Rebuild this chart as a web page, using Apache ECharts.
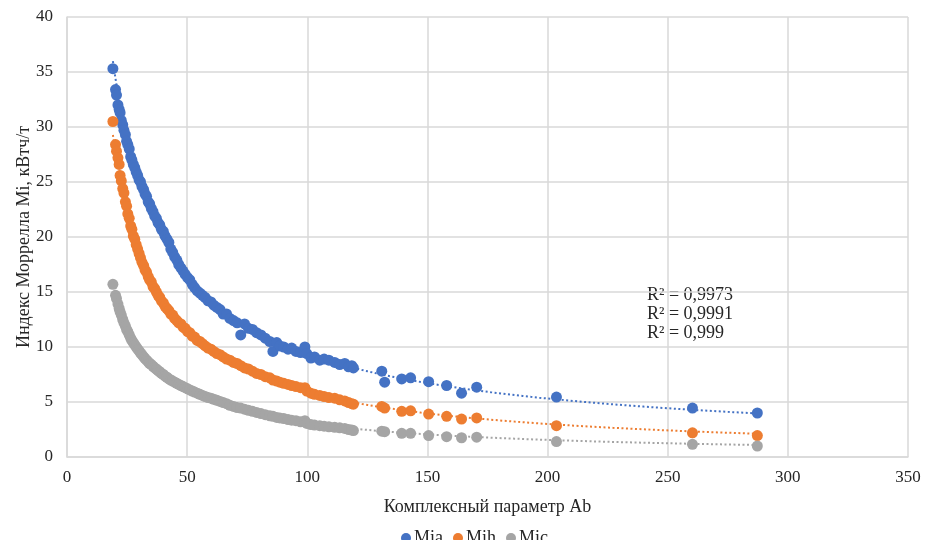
<!DOCTYPE html>
<html>
<head>
<meta charset="utf-8">
<script src="https://cdn.jsdelivr.net/npm/echarts@6/dist/echarts.min.js"></script>
<style>
html,body{margin:0;padding:0;background:#fff;}
#main{width:926px;height:540px;}
</style>
</head>
<body>
<div id="main"></div>
<script>
// Комплексный параметр Ab (общий для всех рядов)
var ab = [19.1,20.2,20.6,21.2,21.7,22.1,22.6,23.2,23.7,24.3,24.8,25.3,25.9,26.5,27.0,27.6,28.2,28.8,29.4,30.0,
  30.6,31.2,31.9,32.5,33.1,33.8,34.4,35.1,35.8,36.5,37.2,37.9,38.6,39.3,40.1,40.8,41.6,42.4,43.2,44.0,
  44.8,45.7,46.5,47.4,48.3,49.2,50.2,51.1,52.1,53.1,54.2,55.3,56.4,57.5,58.7,59.9,61.1,62.4,63.7,65.0,
  66.4,67.8,69.3,70.8,72.3,73.9,75.5,77.2,78.9,80.7,82.5,84.4,85.7,87.3,88.6,90.2,92.0,93.5,95.3,97.2,
  99.0,99.8,101.5,103.0,105.2,107.0,109.0,111.4,113.5,115.6,117.2,118.5,119.2,131.0,132.2,139.3,143.0,150.5,158.0,164.2,
  170.5,203.7,260.3,287.3];
var mia = [35.3,33.4,32.9,32.0,31.6,31.3,30.6,30.2,29.7,29.3,28.7,28.4,28.0,27.3,27.0,26.6,26.3,25.9,25.6,25.2,
  25.0,24.6,24.3,23.9,23.7,23.2,23.0,22.6,22.3,21.9,21.7,21.3,21.1,20.7,20.5,20.1,19.8,19.5,18.9,18.6,
  18.2,17.9,17.5,17.2,16.9,16.6,16.3,16.1,15.7,15.4,15.1,14.9,14.7,14.5,14.2,14.1,13.8,13.6,13.4,13.0,
  13.0,12.6,12.4,12.2,11.1,12.1,11.7,11.6,11.3,11.1,10.8,10.5,9.6,10.4,10.1,10.0,9.8,9.9,9.6,9.5,
  10.0,9.4,9.0,9.1,8.8,8.9,8.8,8.6,8.4,8.5,8.2,8.3,8.1,7.8,6.8,7.1,7.2,6.85,6.5,5.8,
  6.35,5.45,4.45,4.0];
var mih = [30.5,28.4,27.8,27.2,26.6,25.6,25.1,24.4,24.0,23.2,22.8,22.1,21.7,21.0,20.7,20.1,19.8,19.3,18.9,18.5,
  18.1,17.7,17.4,17.0,16.8,16.4,16.1,15.9,15.5,15.3,15.0,14.7,14.5,14.2,14.0,13.7,13.5,13.3,13.0,12.9,
  12.6,12.4,12.2,12.1,11.8,11.7,11.4,11.3,11.0,10.9,10.6,10.5,10.3,10.1,9.9,9.8,9.6,9.4,9.3,9.1,
  8.9,8.8,8.6,8.5,8.3,8.1,8.0,7.8,7.6,7.5,7.3,7.2,7.0,6.9,6.8,6.7,6.6,6.5,6.4,6.3,
  6.3,6.0,5.8,5.7,5.6,5.5,5.4,5.35,5.2,5.1,4.95,4.85,4.8,4.6,4.45,4.15,4.2,3.9,3.7,3.45,
  3.55,2.85,2.2,1.95];
var mic = [15.7,14.7,14.4,13.9,13.5,13.2,12.9,12.5,12.2,11.9,11.6,11.4,11.1,10.8,10.6,10.4,10.2,10.0,9.8,9.65,
  9.45,9.3,9.1,8.95,8.8,8.65,8.5,8.4,8.25,8.1,8.0,7.85,7.75,7.6,7.5,7.35,7.25,7.1,7.0,6.9,
  6.8,6.7,6.6,6.5,6.4,6.3,6.2,6.1,6.0,5.9,5.8,5.7,5.6,5.5,5.4,5.35,5.25,5.15,5.05,4.95,
  4.85,4.7,4.6,4.5,4.45,4.35,4.25,4.15,4.05,3.95,3.85,3.75,3.7,3.6,3.55,3.5,3.4,3.35,3.3,3.2,
  3.3,3.05,2.95,2.9,2.85,2.8,2.75,2.7,2.65,2.6,2.5,2.45,2.4,2.35,2.3,2.15,2.15,1.95,1.85,1.75,
  1.8,1.4,1.15,1.0];
var seriesNames = ['Mia','Mih','Mic'];
var colors = ['#4472C4','#ED7D31','#A5A5A5'];
var r2Labels = ['R² = 0,9973','R² = 0,9991','R² = 0,999'];

var font = '"Liberation Serif", "Times New Roman", serif';

function pairs(xs, ys) {
    var out = [];
    for (var i = 0; i < xs.length; i++) out.push([xs[i], ys[i]]);
    return out;
}
// степенная линия тренда (как в Excel): ln y = ln a + b ln x
function powerTrend(xs, ys) {
    var n = xs.length, sx = 0, sy = 0, sxx = 0, sxy = 0;
    for (var i = 0; i < n; i++) {
        var lx = Math.log(xs[i]), ly = Math.log(ys[i]);
        sx += lx; sy += ly; sxx += lx * lx; sxy += lx * ly;
    }
    var b = (n * sxy - sx * sy) / (n * sxx - sx * sx);
    var a = Math.exp((sy - b * sx) / n);
    var x0 = Math.min.apply(null, xs), x1 = Math.max.apply(null, xs);
    var pts = [];
    for (var k = 0; k <= 150; k++) {
        var x = x0 * Math.pow(x1 / x0, k / 150);
        pts.push([x, a * Math.pow(x, b)]);
    }
    return pts;
}

var allY = [mia, mih, mic];
var series = [];
for (var s = 0; s < 3; s++) {
    series.push({
        name: seriesNames[s] + ' trend',
        type: 'line',
        data: powerTrend(ab, allY[s]),
        showSymbol: false,
        silent: true,
        z: 1,
        lineStyle: {color: colors[s], width: 2, type: [2, 2.5]}
    });
}
for (var s = 0; s < 3; s++) {
    series.push({
        name: seriesNames[s],
        type: 'scatter',
        data: pairs(ab, allY[s]),
        symbolSize: 11,
        z: 3,
        itemStyle: {color: colors[s], opacity: 1}
    });
}

var mychart = echarts.init(document.getElementById('main'), null, {renderer: 'canvas'});
var option = {
    animation: false,
    color: colors,
    grid: {left: 67, right: 18, top: 17, bottom: 83},
    xAxis: {
        type: 'value',
        min: 0, max: 350, interval: 50,
        name: 'Комплексный параметр Ab',
        nameLocation: 'middle',
        nameGap: 41,
        nameMoveOverlap: false,
        nameTextStyle: {fontFamily: font, fontSize: 18, color: '#262626'},
        axisLine: {show: true, lineStyle: {color: '#d9d9d9', width: 1.5}},
        axisTick: {show: false},
        axisLabel: {fontFamily: font, fontSize: 17, color: '#262626', margin: 12},
        splitLine: {show: true, lineStyle: {color: '#d9d9d9', width: 1.5}}
    },
    yAxis: {
        type: 'value',
        min: 0, max: 40, interval: 5,
        name: 'Индекс Моррелла Mi, кВтч/т',
        nameLocation: 'middle',
        nameGap: 34,
        nameMoveOverlap: false,
        nameTextStyle: {fontFamily: font, fontSize: 18, color: '#262626'},
        axisLine: {show: true, lineStyle: {color: '#d9d9d9', width: 1.5}},
        axisTick: {show: false},
        axisLabel: {fontFamily: font, fontSize: 17, color: '#262626', margin: 14},
        splitLine: {show: true, lineStyle: {color: '#d9d9d9', width: 1.5}}
    },
    legend: {
        data: seriesNames,
        top: 524,
        left: 396,
        icon: 'circle',
        itemWidth: 10, itemHeight: 10,
        itemGap: 10,
        textStyle: {fontFamily: font, fontSize: 18, color: '#262626', padding: [0, 0, 0, -2]}
    },
    graphic: [{
        type: 'text',
        left: 647,
        top: 286,
        style: {
            text: r2Labels.join('\n'),
            fontFamily: font,
            fontSize: 18,
            lineHeight: 19,
            fill: '#262626'
        }
    }],
    series: series
};
mychart.setOption(option);
</script>
</body>
</html>
